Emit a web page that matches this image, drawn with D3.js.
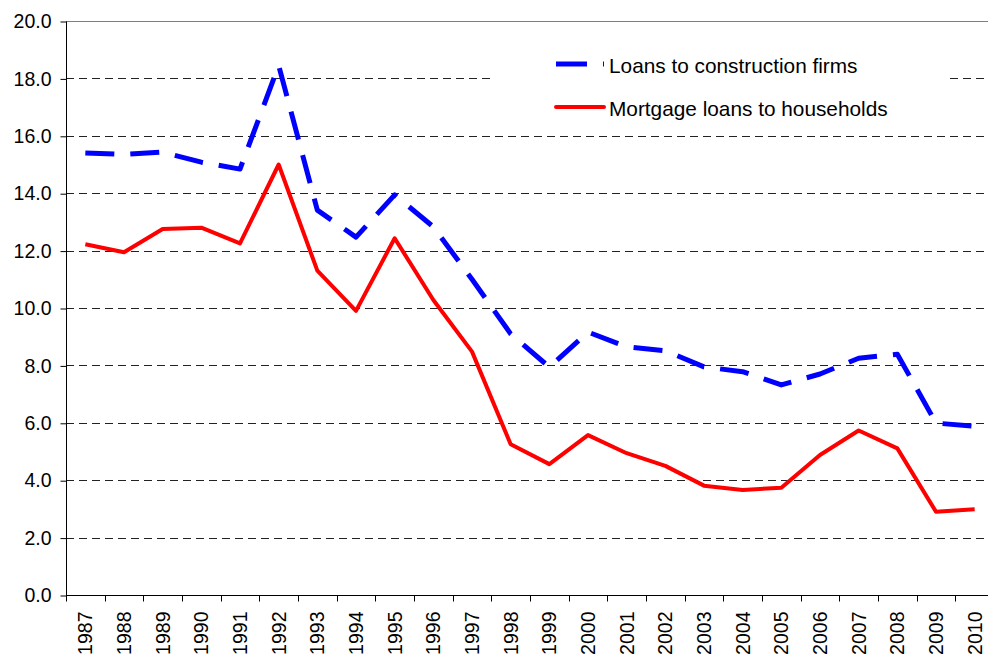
<!DOCTYPE html>
<html>
<head>
<meta charset="utf-8">
<script src="https://cdn.jsdelivr.net/npm/d3@7"></script>
<style>
	body { margin: 0; background: #fff; }
	svg { display: block; font-family: "Liberation Sans", Arial, sans-serif; }
</style>
</head>
<body>
<script>
// data
var years = ['1987','1988','1989','1990','1991','1992','1993','1994','1995','1996','1997','1998',
	'1999','2000','2001','2002','2003','2004','2005','2006','2007','2008','2009','2010'];
var construction = [15.4, 15.35, 15.43, 15.08, 14.84, 18.45, 13.41, 12.47, 13.94, 12.83, 11.0, 9.1,
	7.94, 9.16, 8.65, 8.51, 7.95, 7.78, 7.32, 7.7, 8.25, 8.39, 5.99, 5.88];
var mortgage = [12.22, 11.94, 12.75, 12.8, 12.25, 15.0, 11.3, 9.9, 12.43, 10.28, 8.48, 5.25,
	4.56, 5.57, 4.94, 4.5, 3.81, 3.66, 3.74, 4.88, 5.73, 5.11, 2.9, 2.99];
var yTicks = [0, 2, 4, 6, 8, 10, 12, 14, 16, 18, 20];
var seriesNames = ['Loans to construction firms', 'Mortgage loans to households'];

var width = 988, height = 657;
var plotLeft = 66, plotRight = 994, plotTop = 21, plotBottom = 595;

var svg = d3.select('body')
	.append('svg')
	.attr('width', width)
	.attr('height', height);

var x = d3.scaleBand()
	.domain(years)
	.range([plotLeft, plotRight]);

var y = d3.scaleLinear()
	.domain([0, 20])
	.range([plotBottom, plotTop]);

// gridlines
svg.selectAll('.grid')
	.data(yTicks.slice(1, -1))
	.enter()
	.append('line')
	.classed('grid', true)
	.attr('x1', plotLeft)
	.attr('x2', plotRight)
	.attr('y1', function(d){ return Math.round(y(d)) + 0.5; })
	.attr('y2', function(d){ return Math.round(y(d)) + 0.5; })
	.style('stroke', '#222')
	.style('stroke-width', 1)
	.style('stroke-dasharray', '8,5');

// top border
svg.append('line')
	.attr('x1', plotLeft).attr('x2', plotRight)
	.attr('y1', Math.round(y(20)) + 0.5).attr('y2', Math.round(y(20)) + 0.5)
	.style('stroke', '#808080')
	.style('stroke-width', 1);

// y axis
var yAxis = svg.append('g')
	.attr('transform', 'translate(' + (plotLeft + 0.5) + ',0.5)')
	.call(d3.axisLeft(y)
		.tickValues(yTicks)
		.tickSize(6)
		.tickPadding(9)
		.tickFormat(d3.format('.1f')));
yAxis.select('.domain').attr('d', 'M0,' + Math.round(plotTop) + 'V' + Math.round(plotBottom));
yAxis.selectAll('text')
	.style('font-size', '19.5px')
	.style('fill', '#000')
	.style('font-family', '"Liberation Sans", Arial, sans-serif');

// x axis: ticks on the band boundaries
var xAxis = svg.append('g')
	.attr('transform', 'translate(0,' + (plotBottom + 0.5) + ')');
xAxis.append('line')
	.attr('x1', plotLeft).attr('x2', plotRight)
	.style('stroke', '#000');
xAxis.selectAll('.tick')
	.data(years)
	.enter()
	.append('line')
	.classed('tick', true)
	.attr('x1', function(d){ return Math.round(x(d)) + 0.5; })
	.attr('x2', function(d){ return Math.round(x(d)) + 0.5; })
	.attr('y1', 0)
	.attr('y2', 6)
	.style('stroke', '#000');
xAxis.selectAll('.label')
	.data(years)
	.enter()
	.append('text')
	.classed('label', true)
	.attr('transform', function(d){
		return 'translate(' + (x(d) + x.bandwidth() / 2 + 7) + ',16) rotate(-90)';
	})
	.style('text-anchor', 'end')
	.style('font-size', '19.5px')
	.style('fill', '#000')
	.text(function(d){ return d; });

// lines
var line = d3.line()
	.x(function(d, i){ return x(years[i]) + x.bandwidth() / 2; })
	.y(function(d){ return y(d); });

svg.append('path')
	.datum(mortgage)
	.attr('d', line)
	.style('fill', 'none')
	.style('stroke', '#ff0000')
	.style('stroke-width', 4)
	.style('stroke-linejoin', 'round');

svg.append('path')
	.datum(construction)
	.attr('d', line)
	.style('fill', 'none')
	.style('stroke', '#0000ff')
	.style('stroke-width', 5)
	.style('stroke-dasharray', '29,16')
	.style('stroke-linejoin', 'round');

// legend
svg.append('rect')
	.attr('x', 490).attr('y', 36)
	.attr('width', 460).attr('height', 92)
	.style('fill', '#fff');

svg.append('line')
	.attr('x1', 556).attr('x2', 604)
	.attr('y1', 64).attr('y2', 64)
	.style('stroke', '#0000ff')
	.style('stroke-width', 5)
	.style('stroke-dasharray', '31,16');
svg.append('line')
	.attr('x1', 556).attr('x2', 604)
	.attr('y1', 107).attr('y2', 107)
	.style('stroke', '#ff0000')
	.style('stroke-width', 4)
	.style('stroke-linecap', 'round');

svg.selectAll('.legend')
	.data(seriesNames)
	.enter()
	.append('text')
	.classed('legend', true)
	.attr('x', 609)
	.attr('y', function(d, i){ return 73 + i * 43; })
	.style('font-size', '20.8px')
	.style('fill', '#000')
	.text(function(d){ return d; });
</script>
</body>
</html>
